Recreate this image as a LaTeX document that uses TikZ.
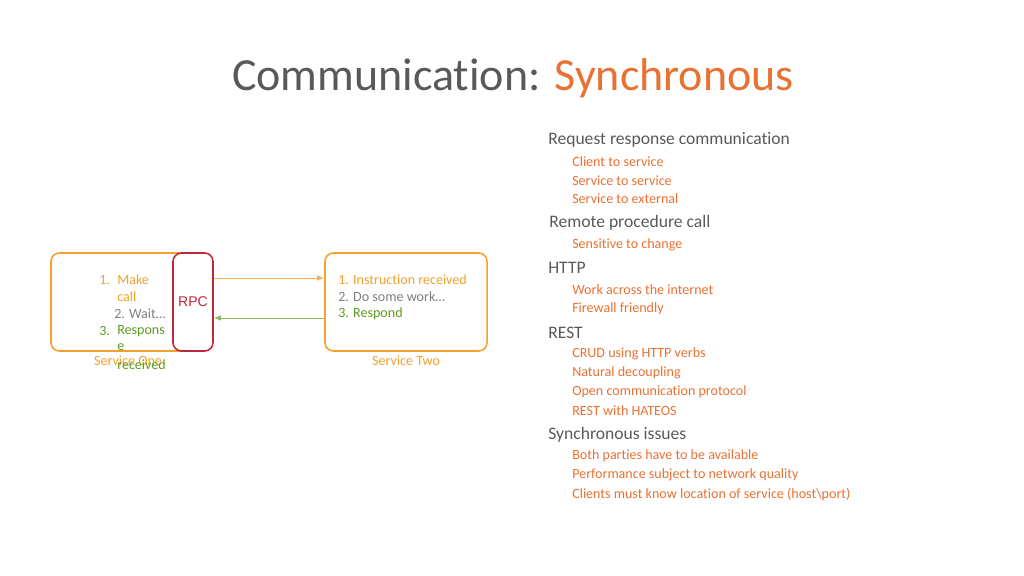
\documentclass[tikz,border=0pt]{standalone}
\usepackage{fontspec}
\setmainfont{Carlito}[Ligatures=NoCommon]
\newfontfamily\rpcfont{Liberation Sans}
\usetikzlibrary{positioning,arrows.meta}
\definecolor{titlegray}{HTML}{595959}
\definecolor{accent}{HTML}{E97132}
\definecolor{boxorange}{HTML}{F5A02A}
\definecolor{rpcred}{HTML}{C0293B}
\definecolor{okgreen}{HTML}{5E9A1E}
\definecolor{waitgray}{HTML}{7F7F7F}
\tikzset{
  svcbox/.style={draw=boxorange, line width=1.1pt, rounded corners=6pt,
    minimum height=2.45cm, inner sep=0},
  rpcbox/.style={draw=rpcred, fill=white, line width=1.1pt, rounded corners=6pt,
    minimum width=1cm, minimum height=2.45cm, inner sep=0,
    text=rpcred, font=\rpcfont\fontsize{10}{12}\selectfont},
  head/.style={anchor=west, inner sep=0, text=titlegray,
    font=\fontsize{12.5}{15}\selectfont},
  item/.style={anchor=west, inner sep=0, text=accent,
    font=\fontsize{10}{12}\selectfont},
  boxline/.style={anchor=west, inner sep=0, font=\fontsize{10}{12}\selectfont},
  svclabel/.style={inner sep=0, text=boxorange, font=\fontsize{10}{12}\selectfont},
  msg/.style={line width=0.6pt, -{Latex[length=5pt,width=4pt]}}
}
\begin{document}
\begin{tikzpicture}[x=0.025cm, y=-0.025cm]
  \useasboundingbox (0,0) rectangle (1024,576);
  % title
  \node[inner sep=0, font=\fontsize{32.7}{38}\selectfont] (title) at (513,78)
    {\textcolor{titlegray}{Communication:} \textcolor{accent}{Synchronous}};
  % services
  \node[svcbox, minimum width=3.85cm] (one) at (128,302) {};
  \node[rpcbox] (rpc) at (193,302) {RPC};
  \node[svcbox, minimum width=4.05cm] (two) at (406,302) {};
  \node[svclabel, below=3pt of one] (onelbl) {Service One};
  \node[svclabel, below=3pt of two] (twolbl) {Service Two};
  % service one steps
  \node[boxline, text=boxorange] (o1n) at (99,280) {1.};
  \node[boxline, text=boxorange] (o1a) at (117,280) {Make};
  \node[boxline, text=boxorange] (o1b) at (117,297) {call};
  \node[boxline, text=waitgray] (o2) at (114,314) {2. Wait…};
  \node[boxline, text=okgreen] (o3n) at (99,331) {3.};
  \node[boxline, text=okgreen] (o3a) at (117,331) {Respons};
  \node[boxline, text=okgreen] (o3b) at (117,347) {e};
  \node[boxline, text=okgreen] (o3c) at (117,365) {received};
  % service two steps
  \node[boxline, text=boxorange] (t1) at (338,280) {1. Instruction received};
  \node[boxline, text=waitgray] (t2) at (338,297) {2. Do some work…};
  \node[boxline, text=okgreen] (t3) at (338,314) {3. Respond};
  % messages
  \draw[msg, draw=boxorange!80] ([yshift=0.6cm]rpc.east) -- ([yshift=0.6cm]two.west);
  \draw[msg, draw=okgreen!70] ([yshift=-0.4cm]two.west) -- ([yshift=-0.4cm]rpc.east);
  % notes
  \node[head] (h1) at (548,140) {Request response communication};
  \node[item] (i11) at (572,162) {Client to service};
  \node[item] (i12) at (572,181) {Service to service};
  \node[item] (i13) at (572,199) {Service to external};
  \node[head] (h2) at (549,223) {Remote procedure call};
  \node[item] (i21) at (572,245) {Sensitive to change};
  \node[head] (h3) at (548,268) {HTTP};
  \node[item] (i31) at (572,290) {Work across the internet};
  \node[item] (i32) at (572,309) {Firewall friendly};
  \node[head] (h4) at (548,333) {REST};
  \node[item] (i41) at (572,354) {CRUD using HTTP verbs};
  \node[item] (i42) at (572,373) {Natural decoupling};
  \node[item] (i43) at (572,392) {Open communication protocol};
  \node[item] (i44) at (572,411) {REST with HATEOS};
  \node[head] (h5) at (548,435) {Synchronous issues};
  \node[item] (i51) at (572,456) {Both parties have to be available};
  \node[item] (i52) at (572,475) {Performance subject to network quality};
  \node[item] (i53) at (572,494) {Clients must know location of service (host\textbackslash port)};
\end{tikzpicture}
\end{document}
